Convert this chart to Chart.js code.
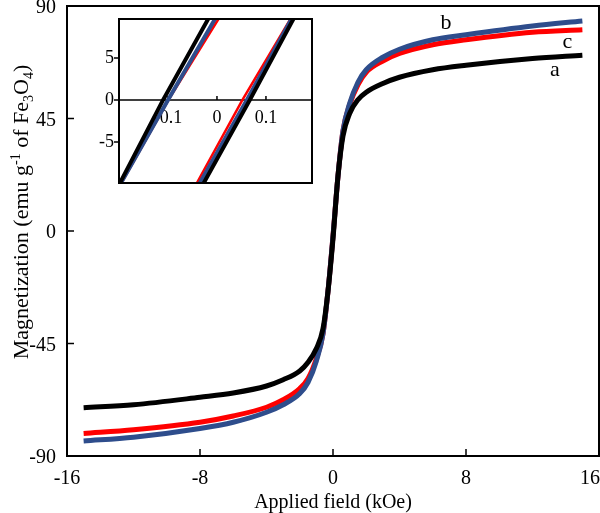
<!DOCTYPE html>
<html><head><meta charset="utf-8">
<script src="https://cdn.jsdelivr.net/npm/chart.js@4/dist/chart.umd.min.js"></script>
<style>
html,body{margin:0;padding:0;background:#fff;}
#wrap{position:relative;width:600px;height:513px;overflow:hidden;}
#main{position:absolute;left:0;top:0;}
#inset{position:absolute;left:95px;top:10px;}
</style></head><body>
<div id="wrap"><canvas id="main" width="600" height="513"></canvas><canvas id="inset" width="222" height="180"></canvas></div>
<script>
// ---- main chart data ----
const fieldKOe = [-15,-12,-8,-6,-4,-3,-2,-1.5,-1,-0.6,-0.3,0,0.3,0.6,1,1.5,2,3,4,6,8,12,15];
const magA = [-70.7,-69.5,-66.5,-64.8,-62,-59.5,-56,-52.5,-47,-39,-24,-3,22,38,47,52.5,55.5,59,61.5,64.5,66.3,69,70.3];
const magB = [-84,-82.5,-79,-76.5,-72.5,-69.5,-65,-60.5,-52,-41,-24,-2,22,40,51,59.5,64.5,69.5,72.7,76.5,78.5,82,84];
const magC = [-81,-79.5,-76.5,-74,-70.5,-67.5,-63,-59,-51,-41,-24,-2,22,40,50.5,58.5,63.5,68,71,74.5,76.5,79.5,80.5];
const xTickVals = [-16,-8,0,8,16];
const yTickVals = [-90,-45,0,45,90];
const curveLabels = ['a','b','c'];
const curveLabelX = [13.35, 6.8, 14.1];
const curveLabelY = [64.3, 83.2, 75.5];

// ---- inset data ----
const insetMag = [-9.9, 0, 9.65];
const insetDescA = [-0.198,-0.110,-0.018];
const insetAscA  = [-0.027, 0.067, 0.156];
const insetDescB = [-0.196,-0.100,-0.004];
const insetAscB  = [-0.035, 0.061, 0.152];
const insetDescC = [-0.195,-0.099, 0.003];
const insetAscC  = [-0.041, 0.052, 0.150];
const insetXTicks = [-0.1, 0, 0.1];
const insetYTicks = [-5, 0, 5];

const BLACK = '#000000', BLUE = '#2e4d8c', RED = '#ff0000';
const FONT = '"Liberation Serif", "Times New Roman", serif';

function pts(xs, ys){ return xs.map((x,i)=>({x:x, y:ys[i]})); }
function fmt(v){ return (Math.round(v*10)/10).toString(); }

const mainPlugin = {
  id:'mainDeco',
  afterDraw(chart){
    const {ctx, chartArea:a, scales:{x, y}} = chart;
    ctx.save();
    ctx.strokeStyle = '#000';
    ctx.lineWidth = 2;
    ctx.strokeRect(a.left, a.top, a.right - a.left, a.bottom - a.top);
    ctx.lineWidth = 1.5;
    ctx.beginPath();
    xTickVals.forEach(v=>{ const px = x.getPixelForValue(v); ctx.moveTo(px, a.bottom); ctx.lineTo(px, a.bottom - 7); });
    yTickVals.forEach(v=>{ const py = y.getPixelForValue(v); ctx.moveTo(a.left, py); ctx.lineTo(a.left + 7, py); });
    ctx.stroke();
    ctx.fillStyle = '#000';
    ctx.font = '20px ' + FONT;
    // x tick labels
    ctx.textBaseline = 'alphabetic';
    xTickVals.forEach(v=>{
      const px = x.getPixelForValue(v);
      const t = String(v);
      const w = ctx.measureText(t).width;
      let left = px - w/2;
      if (left + w > chart.width) left = chart.width - w;
      ctx.textAlign = 'left';
      ctx.fillText(t, left, 484);
    });
    // y tick labels
    ctx.textAlign = 'right';
    ctx.textBaseline = 'middle';
    yTickVals.forEach(v=>{
      const py = y.getPixelForValue(v);
      ctx.fillText(String(v), 56, Math.max(py + 2, 8));
    });
    // x title
    ctx.textAlign = 'center';
    ctx.textBaseline = 'alphabetic';
    ctx.font = '20px ' + FONT;
    ctx.fillText('Applied field (kOe)', (a.left + a.right)/2, 508);
    // y title with sub/superscripts
    const pieces = [
      {t:'Magnetization (emu g', f:22, dy:0},
      {t:'-1', f:14, dy:-8},
      {t:' of Fe', f:22, dy:0},
      {t:'3', f:14, dy:5},
      {t:'O', f:22, dy:0},
      {t:'4', f:14, dy:5},
      {t:')', f:22, dy:0}
    ];
    let W = 0;
    pieces.forEach(p=>{ ctx.font = p.f + 'px ' + FONT; p.w = ctx.measureText(p.t).width; W += p.w; });
    ctx.translate(28, 212);
    ctx.rotate(-Math.PI/2);
    ctx.textAlign = 'left';
    let cx = -W/2;
    pieces.forEach(p=>{ ctx.font = p.f + 'px ' + FONT; ctx.fillText(p.t, cx, p.dy); cx += p.w; });
    ctx.restore();
    // curve labels
    ctx.save();
    ctx.fillStyle = '#000';
    ctx.font = '22px ' + FONT;
    ctx.textAlign = 'center';
    ctx.textBaseline = 'middle';
    curveLabels.forEach((l,i)=>{
      ctx.fillText(l, x.getPixelForValue(curveLabelX[i]), y.getPixelForValue(curveLabelY[i]));
    });
    ctx.restore();
  }
};

new Chart(document.getElementById('main'), {
  type:'line',
  data:{datasets:[
    {label:'a', data:pts(fieldKOe, magA), borderColor:BLACK, borderWidth:5, pointRadius:0, cubicInterpolationMode:'monotone', fill:false},
    {label:'b', data:pts(fieldKOe, magB), borderColor:BLUE, borderWidth:5, pointRadius:0, cubicInterpolationMode:'monotone', fill:false},
    {label:'c', data:pts(fieldKOe, magC), borderColor:RED, borderWidth:5, pointRadius:0, cubicInterpolationMode:'monotone', fill:false}
  ]},
  options:{
    responsive:false, animation:false,
    events:[],
    plugins:{legend:{display:false}, tooltip:{enabled:false}},
    layout:{padding:{top:6, right:1, left:0, bottom:0}},
    scales:{
      x:{type:'linear', min:-16, max:16, grid:{display:false}, border:{display:false}, ticks:{display:false}, afterFit(s){ s.height = 57; }},
      y:{type:'linear', min:-90, max:90, grid:{display:false}, border:{display:false}, ticks:{display:false}, afterFit(s){ s.width = 67; }}
    }
  },
  plugins:[mainPlugin]
});

const insetPlugin = {
  id:'insetDeco',
  beforeDatasetsDraw(chart){
    const {ctx, chartArea:a, scales:{x, y}} = chart;
    ctx.save();
    ctx.fillStyle = '#000';
    ctx.font = '18px ' + FONT;
    ctx.textAlign = 'center';
    ctx.textBaseline = 'middle';
    const y0 = y.getPixelForValue(0);
    insetXTicks.forEach(v=>{ ctx.fillText(fmt(v), x.getPixelForValue(v), y0 + 18); });
    ctx.textAlign = 'right';
    insetYTicks.forEach(v=>{ ctx.fillText(String(v), a.left - 5, y.getPixelForValue(v)); });
    ctx.strokeStyle = '#000';
    ctx.lineWidth = 1.5;
    ctx.beginPath();
    ctx.moveTo(a.left, y0); ctx.lineTo(a.right, y0);
    insetXTicks.forEach(v=>{ const px = x.getPixelForValue(v); ctx.moveTo(px, y0); ctx.lineTo(px, y0 - 4); });
    insetYTicks.forEach(v=>{ const py = y.getPixelForValue(v); ctx.moveTo(a.left, py); ctx.lineTo(a.left - 5, py); });
    ctx.stroke();
    ctx.restore();
  },
  afterDraw(chart){
    const {ctx, chartArea:a} = chart;
    ctx.save();
    ctx.strokeStyle = '#000';
    ctx.lineWidth = 2;
    ctx.strokeRect(a.left, a.top, a.right - a.left, a.bottom - a.top);
    ctx.restore();
  }
};

function insetDs(xs, color, w){
  return {data:pts(xs, insetMag), borderColor:color, borderWidth:w, pointRadius:0, tension:0, fill:false};
}

new Chart(document.getElementById('inset'), {
  type:'line',
  data:{datasets:[
    insetDs(insetDescA, BLACK, 4), insetDs(insetAscA, BLACK, 4),
    insetDs(insetDescB, BLUE, 4), insetDs(insetAscB, BLUE, 4),
    insetDs(insetDescC, RED, 2.5), insetDs(insetAscC, RED, 2.5)
  ]},
  options:{
    responsive:false, animation:false,
    events:[],
    plugins:{legend:{display:false}, tooltip:{enabled:false}},
    layout:{padding:{top:9, right:5, left:24, bottom:7}},
    scales:{
      x:{type:'linear', display:false, min:-0.2, max:0.194},
      y:{type:'linear', display:false, min:-9.9, max:9.65}
    }
  },
  plugins:[insetPlugin]
});
</script>
</body></html>
